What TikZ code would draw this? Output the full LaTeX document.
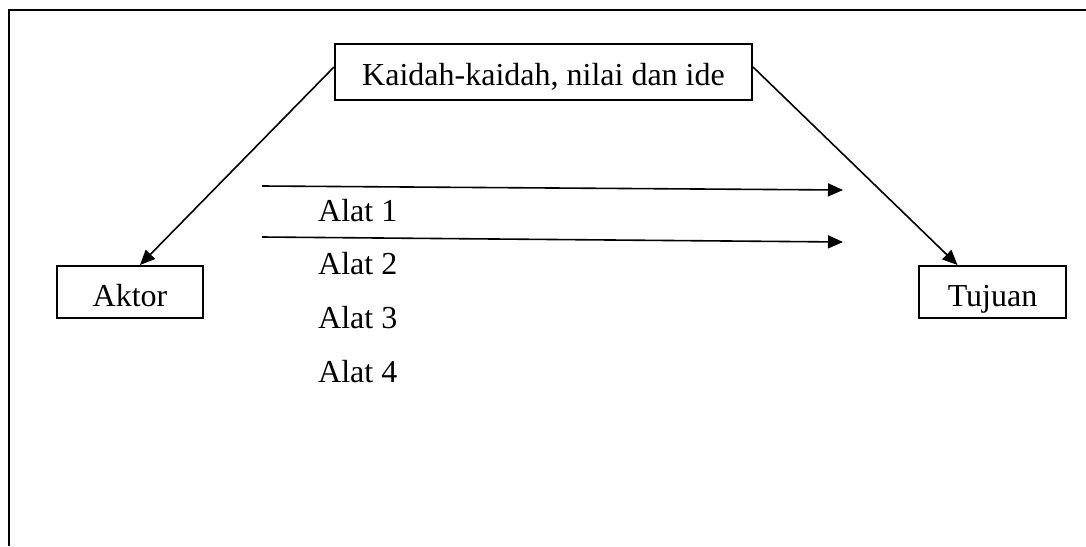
\documentclass[tikz,border=0pt]{standalone}
\usepackage{fontspec}
\setmainfont{Liberation Serif}
\usetikzlibrary{arrows.meta}
\begin{document}
\begin{tikzpicture}[x=1pt,y=-1pt,
  boxnode/.style={draw=black,line width=2pt,inner sep=0pt,align=center,font=\fontsize{32}{37}\selectfont},
  lbl/.style={inner sep=0pt,anchor=base west,font=\fontsize{32}{37}\selectfont},
  conn/.style={line width=1.6pt,-{Triangle[length=15pt,width=13pt]}}]
\useasboundingbox (0,0) rectangle (1086,546);
\draw[line width=2.5pt] (9,546) -- (9,10) -- (1086,10);
\node[boxnode,minimum width=417pt,minimum height=56pt,text height=28pt,text depth=2pt] (kaidah) at (543.5,72) {Kaidah-kaidah, nilai dan ide};
\node[boxnode,minimum width=146pt,minimum height=52pt,text height=30pt,text depth=2pt] (aktor) at (130,292) {Aktor};
\node[boxnode,minimum width=147pt,minimum height=52pt,text height=30pt,text depth=2pt] (tujuan) at (992.5,292) {Tujuan};
\draw[conn] ([yshift=5pt]kaidah.west) -- ([xshift=10pt]aktor.north);
\draw[conn] ([yshift=5pt]kaidah.east) -- ([xshift=-35pt]tujuan.north);
\coordinate (a1s) at (262,186);
\coordinate (a1e) at (843,190);
\coordinate (a2s) at (262,237);
\coordinate (a2e) at (843,242);
\draw[conn] (a1s) -- (a1e);
\draw[conn] (a2s) -- (a2e);
\node[lbl] (alat1) at (318,221) {Alat 1};
\node[lbl] (alat2) at (318,274) {Alat 2};
\node[lbl] (alat3) at (318,328) {Alat 3};
\node[lbl] (alat4) at (318,382) {Alat 4};
\end{tikzpicture}
\end{document}
